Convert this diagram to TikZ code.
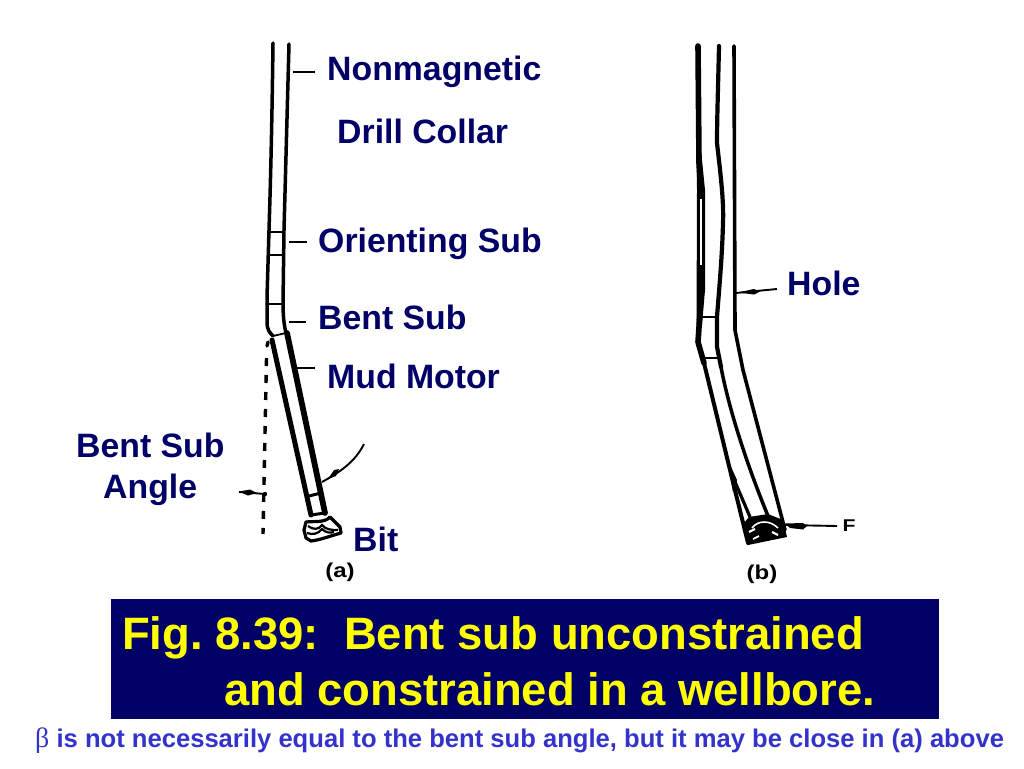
\documentclass[tikz,border=0pt]{standalone}
\usepackage{fontspec}
\setmainfont{Liberation Sans}
\newfontfamily\betafont{Liberation Serif}
\definecolor{navytxt}{HTML}{000066}
\definecolor{notetxt}{HTML}{3333CC}
\definecolor{titley}{HTML}{FFFF00}
\tikzset{
  lbl/.style={anchor=base west,inner sep=0pt,text=navytxt,font=\fontsize{33.8}{36}\selectfont\bfseries},
  ttl/.style={anchor=base west,inner sep=0pt,text=titley,font=\fontsize{45.4}{48}\selectfont\bfseries},
  figcap/.style={anchor=center,inner sep=0pt,text=black,xscale=1.2,font=\fontsize{20}{22}\selectfont\bfseries},
  tube/.style={draw=black,line width=3.5pt,line cap=round,line join=round},
  thick tube/.style={draw=black,line width=5pt,line cap=round,line join=round},
  thin rule/.style={draw=black,line width=1.8pt},
  lead/.style={draw=black,line width=1.9pt},
}
\frenchspacing
\begin{document}
\begin{tikzpicture}[x=1pt,y=-1pt]
\useasboundingbox (0,0) rectangle (1024,768);
% ---- figure (a) ----
\draw[tube] (273,43) .. controls (272,120) and (271,160) .. (270,197) -- (267,297) -- (267,322) .. controls (267,330) and (270,333) .. (273,336);
\draw[tube] (289,44) -- (284,230) -- (283,303) .. controls (283,315) and (284,325) .. (286,333);
\draw[thin rule] (270,232) -- (284,232);
\draw[thin rule] (270,255) -- (283,255);
\draw[thin rule] (268,304) -- (283,304);
\draw[thin rule] (273,336) -- (286,333);
% motor
\draw[thick tube] (272,340) -- (311,515);
\draw[draw=black,line width=5.8pt,line cap=round] (287,333) -- (325,513);
\draw[line width=3pt] (309,496) -- (321,493);
\draw[line width=3pt] (311,515) -- (325,513);
% bit
\draw[fill=white,line width=3.2pt,line join=round] (306,522) .. controls (314,521) and (325,523) .. (330,517) -- (340,527) -- (341,533) .. controls (330,536) and (320,540) .. (311,541) -- (306,538) -- (304,530) -- cycle;
\draw[line width=2.2pt] (308,526) .. controls (314,530) and (318,530) .. (322,525) .. controls (326,530) and (332,530) .. (338,530);
\draw[line width=2.2pt] (307,533) .. controls (313,535) and (318,534) .. (322,529) .. controls (326,533) and (330,533) .. (334,532);
% dashed reference line
\draw[draw=black,line width=3.4pt,dash pattern=on 8pt off 9pt] (266.5,358) -- (263,534);
\draw[draw=black,line width=3.4pt,line cap=round] (268,342) -- (267,346);
% leaders (a)
\coordinate (tn1) at (293,72);  \coordinate (tn2) at (315,72);
\coordinate (to1) at (289,242); \coordinate (to2) at (307,242);
\coordinate (tb1) at (289,322); \coordinate (tb2) at (306,322);
\coordinate (tm1) at (296,368); \coordinate (tm2) at (315,368);
\draw[lead] (tn1) -- (tn2);
\draw[lead] (to1) -- (to2);
\draw[lead] (tb1) -- (tb2);
\draw[lead] (tm1) -- (tm2);
\coordinate (ba1) at (364,444); \coordinate (ba2) at (322,482);
\draw[lead] (ba1) .. controls (355,462) and (340,472) .. (ba2);
\fill (328,479) -- (334,470) -- (339,469) -- (336,476) -- cycle;
\coordinate (aa1) at (239,492); \coordinate (aa2) at (265,494);
\draw[lead] (aa1) -- (aa2);
\fill (239,491.5) -- (250,489.5) -- (257,493) -- (248,495.5) -- cycle;
\fill (265,494) circle (2.2);
% ---- figure (b) ----
\draw[draw=black,line width=5.6pt,line cap=round,line join=round] (698,46) -- (699,163) -- (701,198) -- (701,297) -- (698,342) -- (704,363);
\fill[black] (696.5,130) -- (701,150) -- (705,190) -- (705,290) -- (702,325) -- (696.5,325) -- (697,190) -- cycle;
\draw[draw=black,line width=4pt,line cap=round,line join=round] (704,363) -- (730,470) -- (748,543);
\draw[draw=white,line width=1.6pt] (701,199) -- (701,265);
\draw[draw=black,line width=4.2pt,line cap=round] (719,46) .. controls (718,90) and (717,120) .. (717,143) .. controls (720,170) and (724,200) .. (723,223) .. controls (722,260) and (719,290) .. (717,317) -- (717,347) -- (721,367);
\draw[tube] (721,367) .. controls (728,405) and (745,460) .. (768,516);
\draw[draw=black,line width=3.6pt,line cap=round] (734,46) -- (735,330) -- (743,370) -- (785,530);
\draw[line width=3.2pt,line cap=round] (730,470) -- (750,517);
\fill (727,458) -- (737,480) -- (733,492) -- cycle;
\draw[thin rule] (702,317) -- (717,317);
\draw[thin rule] (703,358) -- (718,358);
% constrained bit
\fill[black] (744,523) -- (749,517) -- (768,514) -- (783,520) -- (787,537) -- (748,545) -- cycle;
\draw[draw=white,line width=1.6pt] (752,528) .. controls (758,520) and (770,520) .. (778,528);
\draw[draw=white,line width=2.2pt] (749,532) -- (755,529);
\draw[draw=white,line width=2.2pt] (772,532) -- (778,535);
\draw[draw=white,line width=1.8pt] (753,539) -- (759,536);
% leaders (b)
\coordinate (ho1) at (777,289); \coordinate (ho2) at (736,293);
\draw[lead] (ho1) -- (ho2);
\fill (738,292.5) -- (754,289) -- (760,291.5) -- (754,294.5) -- cycle;
\coordinate (ff1) at (837,526); \coordinate (ff2) at (785,525);
\draw[lead] (ff1) -- (ff2);
\fill (785,523.5) -- (803,523) -- (807,526) -- (803,529.5) -- (790,528) -- cycle;
% ---- labels ----
\node[lbl] (nm) at (327,81) {Nonmagnetic};
\node[lbl] (dc) at (337,143) {Drill Collar};
\node[lbl] (os) at (318,252) {Orienting Sub};
\node[lbl] (bs) at (318,329) {Bent Sub};
\node[lbl] (mm) at (327,388) {Mud Motor};
\node[lbl] (ba) at (76,457) {Bent Sub};
\node[lbl] (an) at (103,498) {Angle};
\node[lbl] (bi) at (353,551) {Bit};
\node[lbl] (ho) at (787,295) {Hole};
\node[figcap] (ca) at (340,572) {(a)};
\node[figcap] (cb) at (762,574) {(b)};
\node[anchor=center,inner sep=0pt,xscale=1.25,font=\fontsize{17}{20}\selectfont\bfseries] (ff) at (849,526) {F};
% ---- title ----
\fill[navytxt] (111,599) rectangle (939,719);
\node[ttl] (t1) at (122,649) {Fig. 8.39:\ \ Bent sub unconstrained};
\node[ttl] (t2) at (224,705) {and constrained in a wellbore.};
\node[anchor=base west,inner sep=0pt,text=notetxt,font=\fontsize{25.6}{28}\selectfont\bfseries] (nt) at (35,747) {{\betafont\mdseries\fontsize{28}{28}\selectfont β} is not necessarily equal to the bent sub angle, but it may be close in (a) above};
\end{tikzpicture}
\end{document}
